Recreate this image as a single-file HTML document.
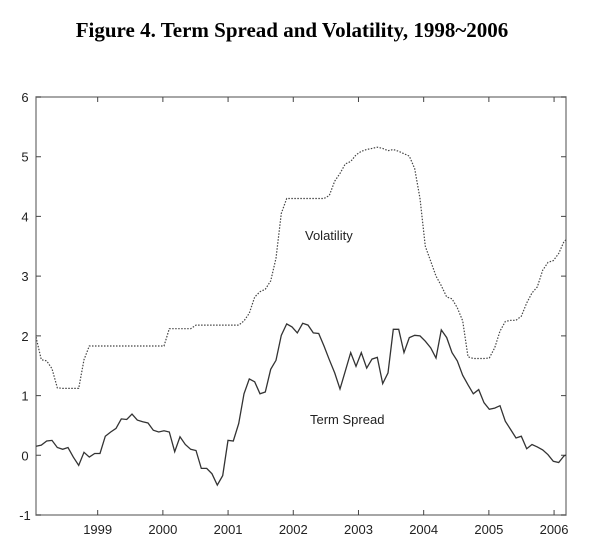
<!DOCTYPE html>
<html><head><meta charset="utf-8"><style>
body{margin:0;background:#fff;width:600px;height:540px;overflow:hidden}
svg{display:block}
</style></head><body>
<svg id="chart" width="600" height="540" xmlns="http://www.w3.org/2000/svg">
<text x="292" y="37" text-anchor="middle" font-family="Liberation Serif, serif" font-weight="bold" font-size="21">Figure 4.  Term Spread and Volatility, 1998~2006</text>
<defs><clipPath id="plotclip"><rect x="36" y="97" width="530" height="418"/></clipPath></defs>
<g id="axes"></g>
<g id="series" clip-path="url(#plotclip)"></g>
<text x="305" y="240" font-family="Liberation Sans, sans-serif" font-size="13" fill="#222">Volatility</text>
<text x="310" y="424" font-family="Liberation Sans, sans-serif" font-size="13" fill="#222">Term Spread</text>
</svg>
<script>
const startYear = 1998.054;
const sampleStep = 0.0818;
const yTicks = [-1,0,1,2,3,4,5,6];
const xTicks = [1999,2000,2001,2002,2003,2004,2005,2006];
const termSpread = [0.15,0.17,0.24,0.25,0.13,0.10,0.13,-0.03,-0.17,0.05,-0.03,0.03,0.03,0.32,0.39,0.45,0.61,0.60,0.69,0.59,0.56,0.54,0.42,0.39,0.41,0.39,0.06,0.31,0.18,0.10,0.08,-0.22,-0.22,-0.31,-0.50,-0.34,0.25,0.24,0.53,1.03,1.28,1.23,1.03,1.06,1.44,1.59,2.01,2.20,2.15,2.05,2.21,2.18,
2.05,2.04,1.83,1.60,1.38,1.11,1.41,1.72,1.49,1.72,1.46,1.61,1.64,1.20,1.38,2.11,2.11,1.72,1.97,2.01,2.00,1.91,1.80,1.63,2.10,1.97,1.72,1.58,1.34,1.18,1.03,1.10,0.88,0.77,0.79,0.83,0.57,0.43,0.29,0.32,0.11,0.18,0.14,0.09,0.01,-0.10,-0.12,-0.01,0.02];
const volatility = [1.98,1.60,1.58,1.45,1.13,1.12,1.12,1.12,1.12,1.60,1.83,1.83,1.83,1.83,1.83,1.83,1.83,1.83,1.83,1.83,1.83,1.83,1.83,1.83,1.83,2.12,2.12,2.12,2.12,2.12,2.18,2.18,2.18,2.18,2.18,2.18,2.18,2.18,2.18,2.25,2.38,2.65,2.74,2.78,2.92,3.30,4.05,4.30,4.30,4.30,4.30,4.30,4.30,4.30,4.30,4.35,4.59,4.72,4.88,4.92,5.03,5.09,5.12,5.14,5.16,5.14,5.10,5.12,5.09,5.05,5.01,4.80,4.30,3.50,3.25,3.00,2.84,2.65,2.62,2.47,2.25,1.65,1.62,1.62,1.62,1.63,1.80,2.08,2.24,2.26,2.26,2.33,2.55,2.72,2.82,3.10,3.23,3.26,3.38,3.58,3.65];

const L=36,R=566,T=97,B=515;
const xMin=1998.054,xMax=2006.183;
function xs(v){return L+(v-xMin)/(xMax-xMin)*(R-L);}
function ys(v){return B-(v+1)/7*(B-T);}
const NS='http://www.w3.org/2000/svg';
function mk(tag,attrs,parent){const e=document.createElementNS(NS,tag);for(const k in attrs)e.setAttribute(k,attrs[k]);parent.appendChild(e);return e;}
const axes=document.getElementById('axes');
const frame=mk('rect',{x:L,y:T,width:R-L,height:B-T,fill:'none',stroke:'#888','stroke-width':1.5},axes);


yTicks.forEach(t=>{
  const y=ys(t);
  const a=mk('path',{d:`M${L} ${y}h5M${R} ${y}h-5`,stroke:'#444','stroke-width':1},axes);
  
  
  const tx=mk('text',{x:25,y:y+5,'text-anchor':'middle','font-family':'Liberation Sans, sans-serif','font-size':13,fill:'#222'},axes);
  tx.textContent=t;
  
  
});
xTicks.forEach(t=>{
  const x=xs(t);
  const a=mk('path',{d:`M${x} ${B}v-5M${x} ${T}v5`,stroke:'#444','stroke-width':1},axes);
  
  
  const tx=mk('text',{x:x,y:534,'text-anchor':'middle','font-family':'Liberation Sans, sans-serif','font-size':13,fill:'#222'},axes);
  tx.textContent=t;
  
  
});
const series=document.getElementById('series');
function line(vals,attrs,name){
  const d=vals.map((v,i)=>(i?'L':'M')+xs(startYear+i*sampleStep).toFixed(1)+' '+ys(v).toFixed(1)).join('');
  const p=mk('path',Object.assign({d:d,fill:'none'},attrs),series);
  
  
}
line(volatility,{stroke:'#444','stroke-width':1.2,'stroke-dasharray':'1.5 1.5'},'volatility-line');
line(termSpread,{stroke:'#333','stroke-width':1.3},'term-spread-line');
</script>
</body></html>
